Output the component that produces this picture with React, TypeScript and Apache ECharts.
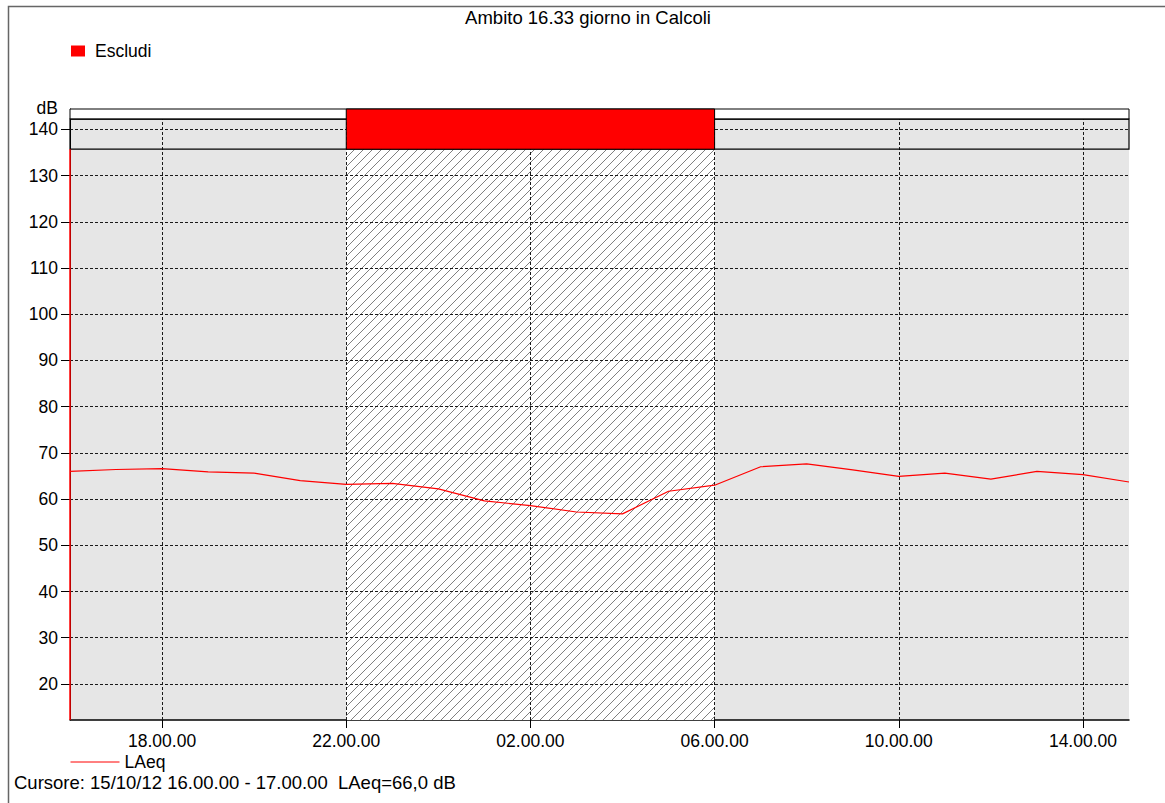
import React, { useEffect, useRef } from "react";
import * as echarts from "echarts";

// ---- data ----
const hours: string[] = [
  "16.00.00", "17.00.00", "18.00.00", "19.00.00", "20.00.00", "21.00.00",
  "22.00.00", "23.00.00", "00.00.00", "01.00.00", "02.00.00", "03.00.00",
  "04.00.00", "05.00.00", "06.00.00", "07.00.00", "08.00.00", "09.00.00",
  "10.00.00", "11.00.00", "12.00.00", "13.00.00", "14.00.00", "15.00.00",
];
const laeq: number[] = [
  66.0, 66.4, 66.6, 65.9, 65.6, 64.0, 63.2, 63.4, 62.2, 59.6, 58.6, 57.2,
  56.8, 61.7, 63.0, 67.0, 67.6, 66.3, 64.9, 65.6, 64.3, 66.0, 65.3, 63.7,
];
const yTicks: number[] = [20, 30, 40, 50, 60, 70, 80, 90, 100, 110, 120, 130, 140];
const xLabelIdx: number[] = [2, 6, 10, 14, 18, 22];
const excludeFrom = "22.00.00";
const excludeTo = "06.00.00";
const cursorAt = "16.00.00";

const Y_MIN = 12.2;
const Y_MAX = 144.4;
const GRAY_TOP = 142.2;
const BAND_BOTTOM = 135.7;

const FONT = "'Liberation Sans', Arial, sans-serif";
const FS = 17.5;

const hatchSvg =
  "data:image/svg+xml;charset=utf-8," +
  encodeURIComponent(
    "<svg xmlns='http://www.w3.org/2000/svg' width='9' height='9'>" +
      "<rect width='9' height='9' fill='#ffffff'/>" +
      "<path d='M-1,1 L1,-1 M0,9 L9,0 M8,10 L10,8' stroke='#808080' stroke-width='1'/>" +
      "</svg>"
  );

export default function App() {
  const ref = useRef<HTMLDivElement>(null);
  useEffect(() => {
    if (!ref.current) return;
    const chart = echarts.init(ref.current, null, { renderer: "svg" });
    const first = hours[0];
    const last = hours[hours.length - 1];
    const gridLineStyle = { color: "#1a1a1a", width: 1, type: [3, 2] as any };
    const hLines = yTicks.map((v) => [
      { coord: [first, v], lineStyle: gridLineStyle },
      { coord: [last, v] },
    ]);
    const vLines = xLabelIdx.map((i) => [
      { coord: [hours[i], Y_MIN], lineStyle: gridLineStyle },
      { coord: [hours[i], GRAY_TOP] },
    ]);
    const option: any = {
      animation: false,
      textStyle: { fontFamily: FONT, color: "#000" },
      title: [
        {
          text: "Ambito 16.33 giorno in Calcoli",
          left: 588,
          top: 8,
          textAlign: "center",
          padding: 0,
          textStyle: { fontSize: 18.5, fontWeight: "normal", color: "#000", fontFamily: FONT },
        },
        {
          text: "Cursore: 15/10/12 16.00.00 - 17.00.00  LAeq=66,0 dB",
          left: 14,
          top: 773,
          padding: 0,
          textStyle: { fontSize: 18.5, fontWeight: "normal", color: "#000", fontFamily: FONT },
        },
      ],
      legend: [
        {
          data: ["Escludi"],
          left: 71,
          top: 42,
          padding: 0,
          icon: "rect",
          itemWidth: 14,
          itemHeight: 11,
          itemGap: 10,
          selectedMode: false,
          textStyle: { fontSize: FS, color: "#000", fontFamily: FONT, padding: [0, 0, 0, 5] },
        },
        {
          data: ["LAeq"],
          left: 70,
          top: 753,
          padding: 0,
          itemWidth: 49,
          itemHeight: 16,
          selectedMode: false,
          itemStyle: { opacity: 0 },
          lineStyle: { width: 1, color: "#ff0000" },
          textStyle: { fontSize: FS, color: "#000", fontFamily: FONT },
        },
      ],
      grid: {
        left: 70,
        right: 36,
        top: 109,
        bottom: 83,
        show: true,
        backgroundColor: "#e6e6e6",
        borderWidth: 0,
      },
      xAxis: {
        type: "category",
        data: hours,
        boundaryGap: false,
        axisLine: { show: true, lineStyle: { color: "#000", width: 1.5 } },
        axisTick: {
          show: true,
          length: 8,
          interval: (i: number) => xLabelIdx.indexOf(i) >= 0,
          lineStyle: { color: "#000" },
        },
        axisLabel: {
          interval: (i: number) => xLabelIdx.indexOf(i) >= 0,
          fontSize: FS,
          color: "#000",
          fontFamily: FONT,
          margin: 12,
        },
        splitLine: { show: false },
      },
      yAxis: {
        type: "value",
        min: Y_MIN,
        max: Y_MAX,
        name: "dB",
        nameLocation: "end",
        nameGap: 1,
        nameTextStyle: {
          fontSize: FS,
          color: "#000",
          fontFamily: FONT,
          align: "right",
          verticalAlign: "middle",
          padding: [0, 12, 0, 0],
        },
        axisLine: { show: true, lineStyle: { color: "#000", width: 1 } },
        axisTick: { show: true, length: 9, customValues: yTicks, lineStyle: { color: "#000" } },
        axisLabel: {
          customValues: yTicks,
          fontSize: FS,
          color: "#000",
          fontFamily: FONT,
          margin: 12,
        },
        splitLine: { show: false },
      },
      series: [
        {
          name: "hatch",
          type: "line",
          data: [],
          z: 1,
          silent: true,
          markArea: {
            silent: true,
            z: 1,
            itemStyle: {
              color: {
                image: hatchSvg,
                repeat: "repeat",
                imageWidth: 9,
                imageHeight: 9,
              },
              borderWidth: 0,
            },
            data: [[{ coord: [excludeFrom, Y_MIN] }, { coord: [excludeTo, BAND_BOTTOM] }]],
          },
        },
        {
          name: "grid",
          type: "line",
          data: [],
          z: 2,
          silent: true,
          markLine: {
            silent: true,
            z: 2,
            symbol: ["none", "none"],
            label: { show: false },
            lineStyle: gridLineStyle,
            data: [...hLines, ...vLines],
          },
        },
        {
          name: "Escludi",
          type: "line",
          data: [],
          z: 3,
          silent: true,
          itemStyle: { color: "#ff0000" },
          lineStyle: { color: "#ff0000" },
          markArea: {
            silent: true,
            z: 3,
            label: { show: false },
            data: [
              [
                { coord: [first, GRAY_TOP], itemStyle: { color: "#ffffff", borderColor: "#000", borderWidth: 1 } },
                { coord: [last, Y_MAX] },
              ],
              [
                { coord: [first, BAND_BOTTOM], itemStyle: { color: "rgba(0,0,0,0)", borderColor: "#000", borderWidth: 1.2 } },
                { coord: [last, GRAY_TOP] },
              ],
              [
                { coord: [excludeFrom, BAND_BOTTOM], itemStyle: { color: "#ff0000", borderColor: "#000", borderWidth: 1 } },
                { coord: [excludeTo, Y_MAX] },
              ],
            ],
          },
        },
        {
          name: "LAeq",
          type: "line",
          data: laeq,
          z: 4,
          symbol: "none",
          showSymbol: false,
          itemStyle: { color: "#ff0000" },
          lineStyle: { color: "#ff0000", width: 1.2 },
          markLine: {
            silent: true,
            symbol: ["none", "none"],
            label: { show: false },
            lineStyle: { color: "#ff0000", width: 1.5, type: "solid" },
            data: [[{ coord: [cursorAt, Y_MIN] }, { coord: [cursorAt, BAND_BOTTOM] }]],
          },
        },
      ],
      graphic: [
        {
          type: "rect",
          left: 6,
          top: 4,
          silent: true,
          shape: { width: 1200, height: 798 },
          style: { fill: "none", stroke: "#666", lineWidth: 1.5 },
          z: 100,
        },
      ],
    };
    chart.setOption(option);
    return () => chart.dispose();
  }, []);
  return (
    <div
      ref={ref}
      style={{ position: "fixed", left: 0, top: 0, width: 1165, height: 803, background: "#fff" }}
    />
  );
}
